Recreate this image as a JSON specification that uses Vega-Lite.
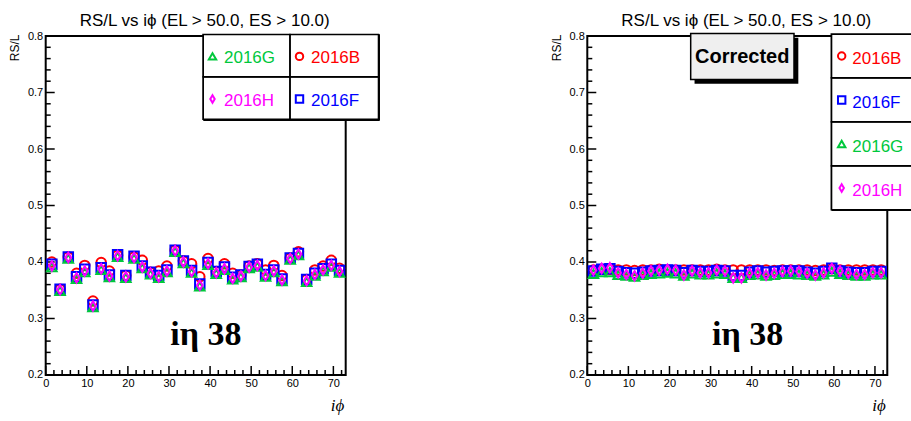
{
"$schema": "https://vega.github.io/schema/vega-lite/v6.json",
"background": "white",
"padding": {"left": 7.7, "top": 11, "right": 0, "bottom": 0},
"config": {
  "view": {"stroke": "black", "strokeWidth": 2, "fill": "transparent"},
  "style": {"cell": {"stroke": "black", "strokeWidth": 2, "fill": "transparent"}},
  "font": "Liberation Sans",
  "axis": {"labelFont": "Liberation Sans", "titleFont": "Liberation Sans", "labelColor": "black", "titleColor": "black", "tickColor": "black", "domain": false, "grid": false, "labelFontSize": 11, "tickWidth": 1.5},
  "axisX": {"orient": "bottom", "ticks": false, "labelPadding": 3, "labelFlush": false, "labelOverlap": false, "titleFont": "Liberation Serif", "titleFontStyle": "italic", "titleFontWeight": "normal", "titleFontSize": 17, "titleAlign": "right", "titleBaseline": "alphabetic", "titleX": 298, "titleY": 36},
  "axisY": {"orient": "left", "format": ".1f", "ticks": false, "labelPadding": 3, "labelFlush": false, "labelOverlap": false, "titleFontSize": 12, "titleFontWeight": "normal", "titleAngle": -90, "titleAlign": "right", "titleBaseline": "alphabetic", "titleX": -27, "titleY": -2}
},
"datasets": {
"one": [{"k": 1}],
"majx": [{"t":0},{"t":10},{"t":20},{"t":30},{"t":40},{"t":50},{"t":60},{"t":70}],
"minx": [{"t":2},{"t":4},{"t":6},{"t":8},{"t":12},{"t":14},{"t":16},{"t":18},{"t":22},{"t":24},{"t":26},{"t":28},{"t":32},{"t":34},{"t":36},{"t":38},{"t":42},{"t":44},{"t":46},{"t":48},{"t":52},{"t":54},{"t":56},{"t":58},{"t":62},{"t":64},{"t":66},{"t":68},{"t":72}],
"majy": [{"t":0.2},{"t":0.3},{"t":0.4},{"t":0.5},{"t":0.6},{"t":0.7},{"t":0.8}],
"miny": [{"t":0.22},{"t":0.24},{"t":0.26},{"t":0.28},{"t":0.32},{"t":0.34},{"t":0.36},{"t":0.38},{"t":0.42},{"t":0.44},{"t":0.46},{"t":0.48},{"t":0.52},{"t":0.54},{"t":0.56},{"t":0.58},{"t":0.62},{"t":0.64},{"t":0.66},{"t":0.68},{"t":0.72},{"t":0.74},{"t":0.76},{"t":0.78}],
"left": [
{"p":1.5,"R":0.400,"run":"2016B"},{"p":3.5,"R":0.352,"run":"2016B"},{"p":5.5,"R":0.409,"run":"2016B"},{"p":7.5,"R":0.380,"run":"2016B"},{"p":9.5,"R":0.394,"run":"2016B"},{"p":11.5,"R":0.331,"run":"2016B"},{"p":13.5,"R":0.399,"run":"2016B"},{"p":15.5,"R":0.384,"run":"2016B"},{"p":17.5,"R":0.412,"run":"2016B"},{"p":19.5,"R":0.376,"run":"2016B"},{"p":21.5,"R":0.409,"run":"2016B"},{"p":23.5,"R":0.403,"run":"2016B"},{"p":25.5,"R":0.382,"run":"2016B"},{"p":27.5,"R":0.384,"run":"2016B"},{"p":29.5,"R":0.393,"run":"2016B"},{"p":31.5,"R":0.421,"run":"2016B"},{"p":33.5,"R":0.402,"run":"2016B"},{"p":35.5,"R":0.397,"run":"2016B"},{"p":37.5,"R":0.374,"run":"2016B"},{"p":39.5,"R":0.406,"run":"2016B"},{"p":41.5,"R":0.383,"run":"2016B"},{"p":43.5,"R":0.397,"run":"2016B"},{"p":45.5,"R":0.380,"run":"2016B"},{"p":47.5,"R":0.377,"run":"2016B"},{"p":49.5,"R":0.393,"run":"2016B"},{"p":51.5,"R":0.397,"run":"2016B"},{"p":53.5,"R":0.386,"run":"2016B"},{"p":55.5,"R":0.394,"run":"2016B"},{"p":57.5,"R":0.376,"run":"2016B"},{"p":59.5,"R":0.407,"run":"2016B"},{"p":61.5,"R":0.418,"run":"2016B"},{"p":63.5,"R":0.369,"run":"2016B"},{"p":65.5,"R":0.386,"run":"2016B"},{"p":67.5,"R":0.393,"run":"2016B"},{"p":69.5,"R":0.403,"run":"2016B"},{"p":71.5,"R":0.389,"run":"2016B"},
{"p":1.5,"R":0.396,"run":"2016F"},{"p":3.5,"R":0.352,"run":"2016F"},{"p":5.5,"R":0.409,"run":"2016F"},{"p":7.5,"R":0.374,"run":"2016F"},{"p":9.5,"R":0.387,"run":"2016F"},{"p":11.5,"R":0.324,"run":"2016F"},{"p":13.5,"R":0.390,"run":"2016F"},{"p":15.5,"R":0.377,"run":"2016F"},{"p":17.5,"R":0.413,"run":"2016F"},{"p":19.5,"R":0.376,"run":"2016F"},{"p":21.5,"R":0.410,"run":"2016F"},{"p":23.5,"R":0.393,"run":"2016F"},{"p":25.5,"R":0.382,"run":"2016F"},{"p":27.5,"R":0.376,"run":"2016F"},{"p":29.5,"R":0.386,"run":"2016F"},{"p":31.5,"R":0.421,"run":"2016F"},{"p":33.5,"R":0.402,"run":"2016F"},{"p":35.5,"R":0.385,"run":"2016F"},{"p":37.5,"R":0.361,"run":"2016F"},{"p":39.5,"R":0.399,"run":"2016F"},{"p":41.5,"R":0.383,"run":"2016F"},{"p":43.5,"R":0.391,"run":"2016F"},{"p":45.5,"R":0.373,"run":"2016F"},{"p":47.5,"R":0.377,"run":"2016F"},{"p":49.5,"R":0.392,"run":"2016F"},{"p":51.5,"R":0.396,"run":"2016F"},{"p":53.5,"R":0.378,"run":"2016F"},{"p":55.5,"R":0.386,"run":"2016F"},{"p":57.5,"R":0.370,"run":"2016F"},{"p":59.5,"R":0.407,"run":"2016F"},{"p":61.5,"R":0.415,"run":"2016F"},{"p":63.5,"R":0.369,"run":"2016F"},{"p":65.5,"R":0.380,"run":"2016F"},{"p":67.5,"R":0.388,"run":"2016F"},{"p":69.5,"R":0.396,"run":"2016F"},{"p":71.5,"R":0.385,"run":"2016F"},
{"p":1.5,"R":0.391,"run":"2016G"},{"p":3.5,"R":0.349,"run":"2016G"},{"p":5.5,"R":0.406,"run":"2016G"},{"p":7.5,"R":0.370,"run":"2016G"},{"p":9.5,"R":0.382,"run":"2016G"},{"p":11.5,"R":0.320,"run":"2016G"},{"p":13.5,"R":0.386,"run":"2016G"},{"p":15.5,"R":0.373,"run":"2016G"},{"p":17.5,"R":0.409,"run":"2016G"},{"p":19.5,"R":0.372,"run":"2016G"},{"p":21.5,"R":0.406,"run":"2016G"},{"p":23.5,"R":0.389,"run":"2016G"},{"p":25.5,"R":0.378,"run":"2016G"},{"p":27.5,"R":0.372,"run":"2016G"},{"p":29.5,"R":0.382,"run":"2016G"},{"p":31.5,"R":0.418,"run":"2016G"},{"p":33.5,"R":0.398,"run":"2016G"},{"p":35.5,"R":0.381,"run":"2016G"},{"p":37.5,"R":0.357,"run":"2016G"},{"p":39.5,"R":0.395,"run":"2016G"},{"p":41.5,"R":0.379,"run":"2016G"},{"p":43.5,"R":0.386,"run":"2016G"},{"p":45.5,"R":0.369,"run":"2016G"},{"p":47.5,"R":0.373,"run":"2016G"},{"p":49.5,"R":0.389,"run":"2016G"},{"p":51.5,"R":0.392,"run":"2016G"},{"p":53.5,"R":0.374,"run":"2016G"},{"p":55.5,"R":0.382,"run":"2016G"},{"p":57.5,"R":0.366,"run":"2016G"},{"p":59.5,"R":0.404,"run":"2016G"},{"p":61.5,"R":0.412,"run":"2016G"},{"p":63.5,"R":0.365,"run":"2016G"},{"p":65.5,"R":0.376,"run":"2016G"},{"p":67.5,"R":0.384,"run":"2016G"},{"p":69.5,"R":0.392,"run":"2016G"},{"p":71.5,"R":0.381,"run":"2016G"},
{"p":1.5,"R":0.393,"run":"2016H"},{"p":3.5,"R":0.351,"run":"2016H"},{"p":5.5,"R":0.408,"run":"2016H"},{"p":7.5,"R":0.372,"run":"2016H"},{"p":9.5,"R":0.384,"run":"2016H"},{"p":11.5,"R":0.322,"run":"2016H"},{"p":13.5,"R":0.388,"run":"2016H"},{"p":15.5,"R":0.375,"run":"2016H"},{"p":17.5,"R":0.411,"run":"2016H"},{"p":19.5,"R":0.374,"run":"2016H"},{"p":21.5,"R":0.408,"run":"2016H"},{"p":23.5,"R":0.391,"run":"2016H"},{"p":25.5,"R":0.380,"run":"2016H"},{"p":27.5,"R":0.374,"run":"2016H"},{"p":29.5,"R":0.384,"run":"2016H"},{"p":31.5,"R":0.420,"run":"2016H"},{"p":33.5,"R":0.400,"run":"2016H"},{"p":35.5,"R":0.383,"run":"2016H"},{"p":37.5,"R":0.359,"run":"2016H"},{"p":39.5,"R":0.397,"run":"2016H"},{"p":41.5,"R":0.381,"run":"2016H"},{"p":43.5,"R":0.388,"run":"2016H"},{"p":45.5,"R":0.371,"run":"2016H"},{"p":47.5,"R":0.375,"run":"2016H"},{"p":49.5,"R":0.391,"run":"2016H"},{"p":51.5,"R":0.394,"run":"2016H"},{"p":53.5,"R":0.376,"run":"2016H"},{"p":55.5,"R":0.384,"run":"2016H"},{"p":57.5,"R":0.368,"run":"2016H"},{"p":59.5,"R":0.406,"run":"2016H"},{"p":61.5,"R":0.414,"run":"2016H"},{"p":63.5,"R":0.367,"run":"2016H"},{"p":65.5,"R":0.378,"run":"2016H"},{"p":67.5,"R":0.386,"run":"2016H"},{"p":69.5,"R":0.394,"run":"2016H"},{"p":71.5,"R":0.383,"run":"2016H"}
],
"right": [
{"p":1.5,"R":0.386,"run":"2016B"},{"p":3.5,"R":0.387,"run":"2016B"},{"p":5.5,"R":0.387,"run":"2016B"},{"p":7.5,"R":0.386,"run":"2016B"},{"p":9.5,"R":0.386,"run":"2016B"},{"p":11.5,"R":0.385,"run":"2016B"},{"p":13.5,"R":0.386,"run":"2016B"},{"p":15.5,"R":0.386,"run":"2016B"},{"p":17.5,"R":0.387,"run":"2016B"},{"p":19.5,"R":0.386,"run":"2016B"},{"p":21.5,"R":0.386,"run":"2016B"},{"p":23.5,"R":0.386,"run":"2016B"},{"p":25.5,"R":0.386,"run":"2016B"},{"p":27.5,"R":0.386,"run":"2016B"},{"p":29.5,"R":0.386,"run":"2016B"},{"p":31.5,"R":0.387,"run":"2016B"},{"p":33.5,"R":0.386,"run":"2016B"},{"p":35.5,"R":0.386,"run":"2016B"},{"p":37.5,"R":0.386,"run":"2016B"},{"p":39.5,"R":0.386,"run":"2016B"},{"p":41.5,"R":0.386,"run":"2016B"},{"p":43.5,"R":0.386,"run":"2016B"},{"p":45.5,"R":0.385,"run":"2016B"},{"p":47.5,"R":0.386,"run":"2016B"},{"p":49.5,"R":0.386,"run":"2016B"},{"p":51.5,"R":0.386,"run":"2016B"},{"p":53.5,"R":0.386,"run":"2016B"},{"p":55.5,"R":0.385,"run":"2016B"},{"p":57.5,"R":0.386,"run":"2016B"},{"p":59.5,"R":0.388,"run":"2016B"},{"p":61.5,"R":0.386,"run":"2016B"},{"p":63.5,"R":0.386,"run":"2016B"},{"p":65.5,"R":0.386,"run":"2016B"},{"p":67.5,"R":0.386,"run":"2016B"},{"p":69.5,"R":0.386,"run":"2016B"},{"p":71.5,"R":0.386,"run":"2016B"},
{"p":1.5,"R":0.384,"run":"2016F"},{"p":3.5,"R":0.387,"run":"2016F"},{"p":5.5,"R":0.388,"run":"2016F"},{"p":7.5,"R":0.383,"run":"2016F"},{"p":9.5,"R":0.381,"run":"2016F"},{"p":11.5,"R":0.380,"run":"2016F"},{"p":13.5,"R":0.382,"run":"2016F"},{"p":15.5,"R":0.384,"run":"2016F"},{"p":17.5,"R":0.385,"run":"2016F"},{"p":19.5,"R":0.386,"run":"2016F"},{"p":21.5,"R":0.385,"run":"2016F"},{"p":23.5,"R":0.381,"run":"2016F"},{"p":25.5,"R":0.385,"run":"2016F"},{"p":27.5,"R":0.383,"run":"2016F"},{"p":29.5,"R":0.383,"run":"2016F"},{"p":31.5,"R":0.385,"run":"2016F"},{"p":33.5,"R":0.384,"run":"2016F"},{"p":35.5,"R":0.376,"run":"2016F"},{"p":37.5,"R":0.376,"run":"2016F"},{"p":39.5,"R":0.382,"run":"2016F"},{"p":41.5,"R":0.384,"run":"2016F"},{"p":43.5,"R":0.382,"run":"2016F"},{"p":45.5,"R":0.383,"run":"2016F"},{"p":47.5,"R":0.384,"run":"2016F"},{"p":49.5,"R":0.384,"run":"2016F"},{"p":51.5,"R":0.384,"run":"2016F"},{"p":53.5,"R":0.382,"run":"2016F"},{"p":55.5,"R":0.380,"run":"2016F"},{"p":57.5,"R":0.383,"run":"2016F"},{"p":59.5,"R":0.389,"run":"2016F"},{"p":61.5,"R":0.384,"run":"2016F"},{"p":63.5,"R":0.382,"run":"2016F"},{"p":65.5,"R":0.381,"run":"2016F"},{"p":67.5,"R":0.381,"run":"2016F"},{"p":69.5,"R":0.383,"run":"2016F"},{"p":71.5,"R":0.383,"run":"2016F"},
{"p":1.5,"R":0.379,"run":"2016G"},{"p":3.5,"R":0.382,"run":"2016G"},{"p":5.5,"R":0.382,"run":"2016G"},{"p":7.5,"R":0.377,"run":"2016G"},{"p":9.5,"R":0.376,"run":"2016G"},{"p":11.5,"R":0.374,"run":"2016G"},{"p":13.5,"R":0.377,"run":"2016G"},{"p":15.5,"R":0.379,"run":"2016G"},{"p":17.5,"R":0.380,"run":"2016G"},{"p":19.5,"R":0.381,"run":"2016G"},{"p":21.5,"R":0.380,"run":"2016G"},{"p":23.5,"R":0.376,"run":"2016G"},{"p":25.5,"R":0.380,"run":"2016G"},{"p":27.5,"R":0.378,"run":"2016G"},{"p":29.5,"R":0.378,"run":"2016G"},{"p":31.5,"R":0.380,"run":"2016G"},{"p":33.5,"R":0.379,"run":"2016G"},{"p":35.5,"R":0.372,"run":"2016G"},{"p":37.5,"R":0.372,"run":"2016G"},{"p":39.5,"R":0.377,"run":"2016G"},{"p":41.5,"R":0.378,"run":"2016G"},{"p":43.5,"R":0.376,"run":"2016G"},{"p":45.5,"R":0.377,"run":"2016G"},{"p":47.5,"R":0.379,"run":"2016G"},{"p":49.5,"R":0.379,"run":"2016G"},{"p":51.5,"R":0.378,"run":"2016G"},{"p":53.5,"R":0.377,"run":"2016G"},{"p":55.5,"R":0.376,"run":"2016G"},{"p":57.5,"R":0.378,"run":"2016G"},{"p":59.5,"R":0.383,"run":"2016G"},{"p":61.5,"R":0.379,"run":"2016G"},{"p":63.5,"R":0.377,"run":"2016G"},{"p":65.5,"R":0.376,"run":"2016G"},{"p":67.5,"R":0.376,"run":"2016G"},{"p":69.5,"R":0.378,"run":"2016G"},{"p":71.5,"R":0.378,"run":"2016G"},
{"p":1.5,"R":0.3855,"run":"2016H"},{"p":3.5,"R":0.3885,"run":"2016H"},{"p":5.5,"R":0.390,"run":"2016H"},{"p":7.5,"R":0.381,"run":"2016H"},{"p":9.5,"R":0.378,"run":"2016H"},{"p":11.5,"R":0.3755,"run":"2016H"},{"p":13.5,"R":0.380,"run":"2016H"},{"p":15.5,"R":0.384,"run":"2016H"},{"p":17.5,"R":0.3855,"run":"2016H"},{"p":19.5,"R":0.387,"run":"2016H"},{"p":21.5,"R":0.3855,"run":"2016H"},{"p":23.5,"R":0.377,"run":"2016H"},{"p":25.5,"R":0.384,"run":"2016H"},{"p":27.5,"R":0.381,"run":"2016H"},{"p":29.5,"R":0.381,"run":"2016H"},{"p":31.5,"R":0.3855,"run":"2016H"},{"p":33.5,"R":0.384,"run":"2016H"},{"p":35.5,"R":0.372,"run":"2016H"},{"p":37.5,"R":0.372,"run":"2016H"},{"p":39.5,"R":0.380,"run":"2016H"},{"p":41.5,"R":0.381,"run":"2016H"},{"p":43.5,"R":0.377,"run":"2016H"},{"p":45.5,"R":0.380,"run":"2016H"},{"p":47.5,"R":0.383,"run":"2016H"},{"p":49.5,"R":0.384,"run":"2016H"},{"p":51.5,"R":0.383,"run":"2016H"},{"p":53.5,"R":0.380,"run":"2016H"},{"p":55.5,"R":0.377,"run":"2016H"},{"p":57.5,"R":0.381,"run":"2016H"},{"p":59.5,"R":0.3885,"run":"2016H"},{"p":61.5,"R":0.384,"run":"2016H"},{"p":63.5,"R":0.380,"run":"2016H"},{"p":65.5,"R":0.378,"run":"2016H"},{"p":67.5,"R":0.378,"run":"2016H"},{"p":69.5,"R":0.381,"run":"2016H"},{"p":71.5,"R":0.381,"run":"2016H"}
]
},
"bounds": "flush",
"spacing": 241.6,
"resolve": {"scale": {"color": "independent", "shape": "independent"}, "legend": {"color": "independent", "shape": "independent"}},
"hconcat": [
{
  "width": 300, "height": 339,
  "view": {"stroke": "black", "strokeWidth": 2, "fill": "transparent"},
  "title": {"text": "RS/L vs iϕ (EL > 50.0, ES > 10.0)", "frame": "group", "anchor": "middle", "baseline": "alphabetic", "offset": -13, "fontSize": 17, "fontWeight": "normal", "font": "Liberation Sans", "color": "black", "dx": 9},
  "layer": [
    {"data": {"name": "majx"}, "mark": {"type": "tick", "orient": "vertical", "size": 9, "thickness": 1.5, "color": "black", "opacity": 1, "yOffset": -4.5},
     "encoding": {
       "x": {"field": "t", "type": "quantitative", "scale": {"domain": [0, 73], "nice": false, "zero": false}, "title": "iϕ", "axis": {"values": [0,10,20,30,40,50,60,70]}},
       "y": {"datum": 0.2, "type": "quantitative", "scale": {"domain": [0.2, 0.8], "nice": false, "zero": false}, "title": "RS/L", "axis": {"values": [0.2,0.3,0.4,0.5,0.6,0.7,0.8]}}}},
    {"data": {"name": "minx"}, "mark": {"type": "tick", "orient": "vertical", "size": 5, "thickness": 1.5, "color": "black", "opacity": 1, "yOffset": -2.5},
     "encoding": {
       "x": {"field": "t", "type": "quantitative", "scale": {"domain": [0, 73], "nice": false, "zero": false}, "title": "iϕ", "axis": {"values": [0,10,20,30,40,50,60,70]}},
       "y": {"datum": 0.2, "type": "quantitative", "scale": {"domain": [0.2, 0.8], "nice": false, "zero": false}, "title": "RS/L", "axis": {"values": [0.2,0.3,0.4,0.5,0.6,0.7,0.8]}}}},
    {"data": {"name": "majy"}, "mark": {"type": "tick", "orient": "horizontal", "size": 9, "thickness": 1.5, "color": "black", "opacity": 1, "xOffset": 4.5},
     "encoding": {
       "x": {"datum": 0, "type": "quantitative", "scale": {"domain": [0, 73], "nice": false, "zero": false}, "title": "iϕ", "axis": {"values": [0,10,20,30,40,50,60,70]}},
       "y": {"field": "t", "type": "quantitative", "scale": {"domain": [0.2, 0.8], "nice": false, "zero": false}, "title": "RS/L", "axis": {"values": [0.2,0.3,0.4,0.5,0.6,0.7,0.8]}}}},
    {"data": {"name": "miny"}, "mark": {"type": "tick", "orient": "horizontal", "size": 5, "thickness": 1.5, "color": "black", "opacity": 1, "xOffset": 2.5},
     "encoding": {
       "x": {"datum": 0, "type": "quantitative", "scale": {"domain": [0, 73], "nice": false, "zero": false}, "title": "iϕ", "axis": {"values": [0,10,20,30,40,50,60,70]}},
       "y": {"field": "t", "type": "quantitative", "scale": {"domain": [0.2, 0.8], "nice": false, "zero": false}, "title": "RS/L", "axis": {"values": [0.2,0.3,0.4,0.5,0.6,0.7,0.8]}}}},
    {"data": {"name": "left"}, "mark": {"type": "point", "filled": false, "strokeWidth": 2, "size": 90, "opacity": 1},
     "encoding": {
       "x": {"field": "p", "type": "quantitative", "scale": {"domain": [0, 73], "nice": false, "zero": false}, "title": "iϕ", "axis": {"values": [0,10,20,30,40,50,60,70]}},
       "y": {"field": "R", "type": "quantitative", "scale": {"domain": [0.2, 0.8], "nice": false, "zero": false}, "title": "RS/L", "axis": {"values": [0.2,0.3,0.4,0.5,0.6,0.7,0.8]}},
       "color": {"field": "run", "type": "nominal", "scale": {"domain": ["2016G","2016B","2016H","2016F"], "range": ["#00c83c","#ff0000","#ff00ff","#0000ff"]},
         "legend": {"title": null, "orient": "none", "direction": "horizontal", "legendX": 157.3, "legendY": -2, "columns": 2, "padding": 0, "columnPadding": 0, "rowPadding": 0, "strokeColor": "black", "fillColor": "white", "labelFont": "Liberation Sans", "labelFontSize": 17, "symbolSize": 55, "symbolStrokeWidth": 2,
           "labelExpr": "['', datum.label + (datum.label == '2016G' || datum.label == '2016H' ? '   \u200B' : '   \u2009\u200B'), '']",
           "labelColor": {"expr": "datum.value == '2016B' ? '#ff0000' : datum.value == '2016F' ? '#0000ff' : datum.value == '2016G' ? '#00c83c' : '#ff00ff'"},
           "encoding": {"entries": {"stroke": {"value": "black"}, "strokeWidth": {"value": 1.5}},
                        "symbols": {"x": {"value": 9.5}, "y": {"value": 22}},
                        "labels": {"x": {"value": 21}, "y": {"value": 14.5}, "lineHeight": {"value": 9.5}}}}},
       "shape": {"field": "run", "type": "nominal", "scale": {"domain": ["2016G","2016B","2016H","2016F"], "range": ["triangle-up","circle","M0,-1L0.6,0L0,1L-0.6,0Z","square"]},
         "legend": {"title": null, "orient": "none", "direction": "horizontal", "legendX": 157.3, "legendY": -2, "columns": 2, "padding": 0, "columnPadding": 0, "rowPadding": 0, "strokeColor": "black", "fillColor": "white", "labelFont": "Liberation Sans", "labelFontSize": 17, "symbolSize": 55, "symbolStrokeWidth": 2,
           "labelExpr": "['', datum.label + (datum.label == '2016G' || datum.label == '2016H' ? '   \u200B' : '   \u2009\u200B'), '']",
           "labelColor": {"expr": "datum.value == '2016B' ? '#ff0000' : datum.value == '2016F' ? '#0000ff' : datum.value == '2016G' ? '#00c83c' : '#ff00ff'"},
           "encoding": {"entries": {"stroke": {"value": "black"}, "strokeWidth": {"value": 1.5}},
                        "symbols": {"x": {"value": 9.5}, "y": {"value": 22}},
                        "labels": {"x": {"value": 21}, "y": {"value": 14.5}, "lineHeight": {"value": 9.5}}}}}
     }},
    {"data": {"name": "one"}, "mark": {"type": "text", "font": "Liberation Serif", "fontWeight": "bold", "fontSize": 34, "align": "center", "baseline": "alphabetic", "color": "black"},
     "encoding": {
       "x": {"datum": 39, "type": "quantitative", "scale": {"domain": [0, 73], "nice": false, "zero": false}, "title": "iϕ", "axis": {"values": [0,10,20,30,40,50,60,70]}},
       "y": {"datum": 0.253, "type": "quantitative", "scale": {"domain": [0.2, 0.8], "nice": false, "zero": false}, "title": "RS/L", "axis": {"values": [0.2,0.3,0.4,0.5,0.6,0.7,0.8]}},
       "text": {"value": "iη 38"}
     }}
  ]
},
{
  "width": 300, "height": 339,
  "view": {"stroke": "black", "strokeWidth": 2, "fill": "transparent"},
  "title": {"text": "RS/L vs iϕ (EL > 50.0, ES > 10.0)", "frame": "group", "anchor": "middle", "baseline": "alphabetic", "offset": -13, "fontSize": 17, "fontWeight": "normal", "font": "Liberation Sans", "color": "black", "dx": 9},
  "layer": [
    {"data": {"name": "majx"}, "mark": {"type": "tick", "orient": "vertical", "size": 9, "thickness": 1.5, "color": "black", "opacity": 1, "yOffset": -4.5},
     "encoding": {
       "x": {"field": "t", "type": "quantitative", "scale": {"domain": [0, 73], "nice": false, "zero": false}, "title": "iϕ", "axis": {"values": [0,10,20,30,40,50,60,70]}},
       "y": {"datum": 0.2, "type": "quantitative", "scale": {"domain": [0.2, 0.8], "nice": false, "zero": false}, "title": "RS/L", "axis": {"values": [0.2,0.3,0.4,0.5,0.6,0.7,0.8]}}}},
    {"data": {"name": "minx"}, "mark": {"type": "tick", "orient": "vertical", "size": 5, "thickness": 1.5, "color": "black", "opacity": 1, "yOffset": -2.5},
     "encoding": {
       "x": {"field": "t", "type": "quantitative", "scale": {"domain": [0, 73], "nice": false, "zero": false}, "title": "iϕ", "axis": {"values": [0,10,20,30,40,50,60,70]}},
       "y": {"datum": 0.2, "type": "quantitative", "scale": {"domain": [0.2, 0.8], "nice": false, "zero": false}, "title": "RS/L", "axis": {"values": [0.2,0.3,0.4,0.5,0.6,0.7,0.8]}}}},
    {"data": {"name": "majy"}, "mark": {"type": "tick", "orient": "horizontal", "size": 9, "thickness": 1.5, "color": "black", "opacity": 1, "xOffset": 4.5},
     "encoding": {
       "x": {"datum": 0, "type": "quantitative", "scale": {"domain": [0, 73], "nice": false, "zero": false}, "title": "iϕ", "axis": {"values": [0,10,20,30,40,50,60,70]}},
       "y": {"field": "t", "type": "quantitative", "scale": {"domain": [0.2, 0.8], "nice": false, "zero": false}, "title": "RS/L", "axis": {"values": [0.2,0.3,0.4,0.5,0.6,0.7,0.8]}}}},
    {"data": {"name": "miny"}, "mark": {"type": "tick", "orient": "horizontal", "size": 5, "thickness": 1.5, "color": "black", "opacity": 1, "xOffset": 2.5},
     "encoding": {
       "x": {"datum": 0, "type": "quantitative", "scale": {"domain": [0, 73], "nice": false, "zero": false}, "title": "iϕ", "axis": {"values": [0,10,20,30,40,50,60,70]}},
       "y": {"field": "t", "type": "quantitative", "scale": {"domain": [0.2, 0.8], "nice": false, "zero": false}, "title": "RS/L", "axis": {"values": [0.2,0.3,0.4,0.5,0.6,0.7,0.8]}}}},
    {"data": {"name": "right"}, "mark": {"type": "point", "filled": false, "strokeWidth": 2, "size": 90, "opacity": 1},
     "encoding": {
       "x": {"field": "p", "type": "quantitative", "scale": {"domain": [0, 73], "nice": false, "zero": false}, "title": "iϕ", "axis": {"values": [0,10,20,30,40,50,60,70]}},
       "y": {"field": "R", "type": "quantitative", "scale": {"domain": [0.2, 0.8], "nice": false, "zero": false}, "title": "RS/L", "axis": {"values": [0.2,0.3,0.4,0.5,0.6,0.7,0.8]}},
       "color": {"field": "run", "type": "nominal", "scale": {"domain": ["2016B","2016F","2016G","2016H"], "range": ["#ff0000","#0000ff","#00c83c","#ff00ff"]},
         "legend": {"title": null, "orient": "none", "legendX": 244, "legendY": -2, "columns": 1, "padding": 0, "columnPadding": 0, "rowPadding": 0, "strokeColor": "black", "fillColor": "white", "labelFont": "Liberation Sans", "labelFontSize": 17, "symbolSize": 55, "symbolStrokeWidth": 2,
           "labelExpr": "['', datum.label + '     \u200B', '']",
           "labelColor": {"expr": "datum.value == '2016B' ? '#ff0000' : datum.value == '2016F' ? '#0000ff' : datum.value == '2016G' ? '#00c83c' : '#ff00ff'"},
           "encoding": {"entries": {"stroke": {"value": "black"}, "strokeWidth": {"value": 1.5}},
                        "symbols": {"x": {"value": 10.4}, "y": {"value": 22}},
                        "labels": {"x": {"value": 21}, "y": {"value": 14.5}, "lineHeight": {"value": 10.2}}}}},
       "shape": {"field": "run", "type": "nominal", "scale": {"domain": ["2016B","2016F","2016G","2016H"], "range": ["circle","square","triangle-up","M0,-1L0.6,0L0,1L-0.6,0Z"]},
         "legend": {"title": null, "orient": "none", "legendX": 244, "legendY": -2, "columns": 1, "padding": 0, "columnPadding": 0, "rowPadding": 0, "strokeColor": "black", "fillColor": "white", "labelFont": "Liberation Sans", "labelFontSize": 17, "symbolSize": 55, "symbolStrokeWidth": 2,
           "labelExpr": "['', datum.label + '     \u200B', '']",
           "labelColor": {"expr": "datum.value == '2016B' ? '#ff0000' : datum.value == '2016F' ? '#0000ff' : datum.value == '2016G' ? '#00c83c' : '#ff00ff'"},
           "encoding": {"entries": {"stroke": {"value": "black"}, "strokeWidth": {"value": 1.5}},
                        "symbols": {"x": {"value": 10.4}, "y": {"value": 22}},
                        "labels": {"x": {"value": 21}, "y": {"value": 14.5}, "lineHeight": {"value": 10.2}}}}}
     }},
    {"data": {"name": "one"}, "mark": {"type": "rect", "color": "black", "opacity": 1},
     "encoding": {
       "x": {"datum": 26.1, "type": "quantitative", "scale": {"domain": [0, 73], "nice": false, "zero": false}, "title": "iϕ", "axis": {"values": [0,10,20,30,40,50,60,70]}},
       "x2": {"datum": 51.35},
       "y": {"datum": 0.797, "type": "quantitative", "scale": {"domain": [0.2, 0.8], "nice": false, "zero": false}, "title": "RS/L", "axis": {"values": [0.2,0.3,0.4,0.5,0.6,0.7,0.8]}},
       "y2": {"datum": 0.7157}
     }},
    {"data": {"name": "one"}, "mark": {"type": "rect", "fill": "#efefef", "stroke": "black", "strokeWidth": 1.5, "opacity": 1},
     "encoding": {
       "x": {"datum": 25.16, "type": "quantitative", "scale": {"domain": [0, 73], "nice": false, "zero": false}, "title": "iϕ", "axis": {"values": [0,10,20,30,40,50,60,70]}},
       "x2": {"datum": 50.3},
       "y": {"datum": 0.8044, "type": "quantitative", "scale": {"domain": [0.2, 0.8], "nice": false, "zero": false}, "title": "RS/L", "axis": {"values": [0.2,0.3,0.4,0.5,0.6,0.7,0.8]}},
       "y2": {"datum": 0.723}
     }},
    {"data": {"name": "one"}, "mark": {"type": "text", "font": "Liberation Sans", "fontWeight": "bold", "fontSize": 20, "align": "center", "baseline": "middle", "color": "black"},
     "encoding": {
       "x": {"datum": 37.7, "type": "quantitative", "scale": {"domain": [0, 73], "nice": false, "zero": false}, "title": "iϕ", "axis": {"values": [0,10,20,30,40,50,60,70]}},
       "y": {"datum": 0.7637, "type": "quantitative", "scale": {"domain": [0.2, 0.8], "nice": false, "zero": false}, "title": "RS/L", "axis": {"values": [0.2,0.3,0.4,0.5,0.6,0.7,0.8]}},
       "text": {"value": "Corrected"}
     }},
    {"data": {"name": "one"}, "mark": {"type": "text", "font": "Liberation Serif", "fontWeight": "bold", "fontSize": 34, "align": "center", "baseline": "alphabetic", "color": "black"},
     "encoding": {
       "x": {"datum": 39, "type": "quantitative", "scale": {"domain": [0, 73], "nice": false, "zero": false}, "title": "iϕ", "axis": {"values": [0,10,20,30,40,50,60,70]}},
       "y": {"datum": 0.253, "type": "quantitative", "scale": {"domain": [0.2, 0.8], "nice": false, "zero": false}, "title": "RS/L", "axis": {"values": [0.2,0.3,0.4,0.5,0.6,0.7,0.8]}},
       "text": {"value": "iη 38"}
     }}
  ]
}
]
}
